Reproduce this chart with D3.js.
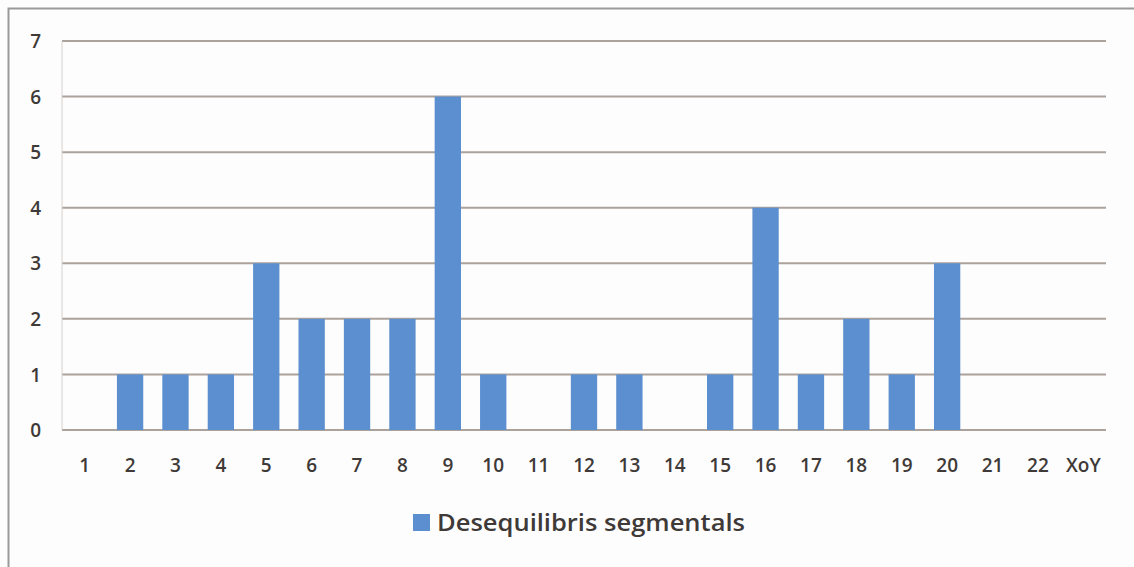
<!DOCTYPE html>
<html>
<head>
<meta charset="utf-8">
<script src="https://cdn.jsdelivr.net/npm/d3@7"></script>
<style>
  html, body { margin: 0; padding: 0; background: #ffffff; }
  svg { display: block; }
  text { font-family: "Open Sans", "Noto Sans", sans-serif; fill: #3f3a38; }
</style>
</head>
<body>
<svg id="chart" width="1134" height="567"></svg>
<script>
// Segmental imbalances per chromosome
const categories = ["1","2","3","4","5","6","7","8","9","10","11","12","13","14","15","16","17","18","19","20","21","22","XoY"];
const values     = [0, 1, 1, 1, 3, 2, 2, 2, 6, 1, 0, 1, 1, 0, 1, 4, 1, 2, 1, 3, 0, 0, 0];
const yTicks     = [0, 1, 2, 3, 4, 5, 6, 7];
const seriesName = "Desequilibris segmentals";

const W = 1134, H = 567;
const margin = { left: 62, right: 28, top: 41, bottom: 137 };
const svg = d3.select("#chart");

// outer frame (top and left edges visible)
svg.append("rect").attr("x", 0).attr("y", 0).attr("width", W).attr("height", H).attr("fill", "#fdfdfd");
svg.append("path")
  .attr("d", `M8.5,${H} V8.5 H${W}`)
  .attr("fill", "none").attr("stroke", "#9a9a9a").attr("stroke-width", 2);

const x = d3.scaleBand().domain(categories).range([margin.left, W - margin.right]).paddingInner(0.42).paddingOuter(0.21);
const y = d3.scaleLinear().domain([0, 7]).range([H - margin.bottom, margin.top]);

// gridlines
svg.append("g").selectAll("line").data(yTicks).join("line")
  .attr("x1", margin.left).attr("x2", W - margin.right)
  .attr("y1", d => y(d)).attr("y2", d => y(d))
  .attr("stroke", "#aba29b").attr("stroke-width", 2);

// left plot edge
svg.append("line")
  .attr("x1", margin.left).attr("x2", margin.left)
  .attr("y1", y(7)).attr("y2", y(0))
  .attr("stroke", "#d6d2cf").attr("stroke-width", 1);

// bars
svg.append("g").selectAll("rect").data(categories.map((c, i) => ({ c, v: values[i] }))).join("rect")
  .attr("x", d => x(d.c))
  .attr("width", x.bandwidth())
  .attr("y", d => y(d.v))
  .attr("height", d => y(0) - y(d.v))
  .attr("fill", "#5b8fcf");

// y axis labels
const yAxis = d3.axisLeft(y).tickValues(yTicks).tickSize(0).tickPadding(0).tickFormat(d3.format("d"));
const gy = svg.append("g").attr("transform", "translate(41,0)").call(yAxis);
gy.select(".domain").remove();
gy.selectAll("text").attr("font-size", 19).attr("font-weight", 600).attr("fill", "#3f3a38")
  .attr("font-family", '"Open Sans", sans-serif').attr("dy", "0.35em");

// x axis labels
const xAxis = d3.axisBottom(x).tickSize(0).tickPadding(0);
const gx = svg.append("g").attr("transform", `translate(0,${y(0) + 35})`).call(xAxis);
gx.select(".domain").remove();
gx.selectAll("text").attr("font-size", 19).attr("font-weight", 600).attr("fill", "#3f3a38")
  .attr("font-family", '"Open Sans", sans-serif').attr("dy", "0.35em");

// legend
const legend = svg.append("g").attr("transform", "translate(413,514)");
legend.append("rect").attr("x", 0).attr("y", 0).attr("width", 17).attr("height", 17).attr("fill", "#5b8fcf");
legend.append("text").attr("x", 24).attr("y", 9).attr("dy", "0.35em")
  .attr("font-size", 23).attr("font-weight", 600)
  .attr("textLength", 308).attr("lengthAdjust", "spacingAndGlyphs")
  .text(seriesName);
</script>
</body>
</html>
